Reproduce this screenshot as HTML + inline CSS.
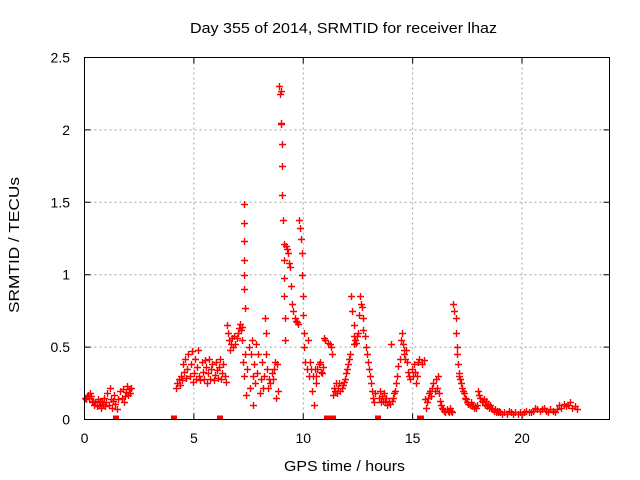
<!DOCTYPE html>
<html><head><meta charset="utf-8"><style>
html,body{margin:0;padding:0;background:#fff;}
svg{display:block;font-family:"Liberation Sans",sans-serif;}
</style></head><body>
<svg id="chart" width="640" height="480">
<text x="343.5" y="33" font-size="15" text-anchor="middle" textLength="307" lengthAdjust="spacingAndGlyphs">Day 355 of 2014, SRMTID for receiver lhaz</text>
<text x="344.5" y="471" font-size="15" text-anchor="middle" textLength="121" lengthAdjust="spacingAndGlyphs">GPS time / hours</text>
<text transform="translate(19,245) rotate(-90)" font-size="15" text-anchor="middle" textLength="136" lengthAdjust="spacingAndGlyphs">SRMTID / TECUs</text>
<g id="grid"></g><g id="ticks"></g><g id="marks"></g>
<rect x="84.5" y="57.5" width="525" height="362" fill="none" stroke="#000" stroke-width="1"/>
</svg>
<script>
const xTicks = [0,5,10,15,20];
const yTicks = [0,0.5,1,1.5,2,2.5];
const yTickLabels = ["0","0.5","1","1.5","2","2.5"];
const hours = [0,0.05,0.1,0.15,0.2,0.25,0.3,0.35,0.4,0.45,0.5,0.55,0.6,0.65,0.7,0.75,0.8,0.85,0.9,0.95,1.0,1.05,1.1,1.15,1.2,1.25,1.3,1.35,1.4,1.5,1.55,1.6,1.7,1.75,1.8,1.85,1.9,1.95,2.0,2.05,2.1,2.12,
4.2,4.25,4.3,4.35,4.4,4.45,4.5,4.55,4.6,4.65,4.7,4.75,4.8,4.85,4.9,4.95,5.0,5.05,5.1,5.15,5.2,5.25,5.3,5.35,5.4,5.45,5.5,5.55,5.6,5.65,5.7,5.75,5.8,5.85,5.9,5.95,6.0,6.05,6.1,6.15,6.2,6.25,6.3,6.35,6.4,6.45,6.5,6.55,6.6,6.65,6.7,6.75,6.8,6.85,6.9,6.95,7.0,7.05,7.1,7.15,7.2,7.22,7.25,7.27,7.3,7.3,7.3,7.3,7.3,7.3,7.32,7.35,7.4,7.45,7.5,7.55,7.6,7.65,7.7,7.7,7.75,7.8,7.85,7.9,7.95,8.0,8.05,8.1,8.15,8.2,8.25,8.3,8.3,8.35,8.4,8.45,8.5,8.55,8.6,8.65,8.7,8.75,8.8,8.85,8.9,8.95,
9.0,9.0,9.0,9.02,9.02,9.05,9.07,9.1,9.1,9.1,9.12,9.15,9.17,9.2,9.25,9.3,9.35,9.4,9.45,9.5,9.55,9.6,9.65,9.7,9.75,9.8,9.85,9.9,9.92,9.95,9.97,10.0,10.02,10.05,10.1,10.15,10.2,10.25,10.3,10.35,10.4,10.45,10.5,10.55,10.6,10.6,10.65,10.7,10.75,10.8,10.85,10.9,10.95,11.0,
11.15,11.2,11.25,11.3,11.35,11.4,11.45,11.5,11.55,11.6,11.65,11.7,11.75,11.8,11.85,11.9,11.95,12.0,12.05,12.1,12.15,12.2,12.25,12.3,12.3,12.32,12.35,12.4,12.45,12.5,12.55,12.6,12.65,12.7,12.72,12.75,12.8,12.85,12.9,12.95,13.0,13.05,13.1,13.15,13.2,13.25,13.3,
13.45,13.5,13.55,13.6,13.65,13.7,13.75,13.8,13.85,13.9,13.95,14.0,14.05,14.1,14.15,14.2,14.25,14.3,14.35,14.4,14.45,14.5,14.55,14.6,14.62,14.65,14.7,14.75,14.8,14.85,14.9,14.95,15.0,15.05,15.1,15.15,15.2,15.25,15.3,
15.45,15.5,15.55,15.6,15.65,15.7,15.75,15.8,15.85,15.9,15.95,16.0,16.05,16.1,16.15,16.2,16.25,16.3,16.35,16.4,16.45,16.5,16.55,16.6,16.65,16.7,16.75,16.8,16.85,16.9,
17.0,17.0,17.02,17.05,17.07,17.1,17.12,17.15,17.2,17.25,17.3,17.35,17.4,17.45,17.5,17.55,17.6,17.65,17.7,17.75,17.8,17.85,17.9,17.95,18.0,18.05,18.1,18.15,18.2,18.25,18.3,18.35,18.4,18.45,18.5,18.55,18.6,18.65,18.7,18.75,18.8,18.85,18.9,18.95,19.0,19.1,19.2,19.3,19.4,19.5,19.6,19.7,19.8,19.9,20.0,20.1,20.2,20.3,20.4,20.5,20.6,20.7,20.8,20.9,21.0,21.1,21.2,21.3,21.4,21.5,21.6,21.7,21.8,21.9,22.0,22.1,22.2,22.3,22.4,22.5,22.6,22.7];
const values = [0.15,0.14,0.16,0.17,0.15,0.18,0.16,0.12,0.13,0.10,0.12,0.09,0.14,0.10,0.13,0.08,0.12,0.11,0.15,0.09,0.12,0.18,0.10,0.22,0.14,0.08,0.13,0.17,0.11,0.07,0.14,0.20,0.15,0.21,0.12,0.16,0.19,0.23,0.17,0.21,0.18,0.22,
0.22,0.25,0.28,0.24,0.30,0.27,0.38,0.33,0.42,0.29,0.35,0.45,0.30,0.38,0.47,0.26,0.32,0.42,0.28,0.36,0.48,0.30,0.27,0.40,0.33,0.28,0.41,0.36,0.25,0.32,0.42,0.28,0.35,0.38,0.27,0.31,0.40,0.34,0.29,0.36,0.42,0.28,0.32,0.38,0.30,0.26,0.65,0.60,0.55,0.48,0.52,0.56,0.50,0.58,0.52,0.56,0.60,0.63,0.66,0.62,0.64,0.55,0.40,0.30,1.49,1.36,1.23,1.10,1.00,0.90,0.77,0.45,0.17,0.35,0.50,0.22,0.45,0.55,0.10,0.30,0.38,0.25,0.52,0.32,0.45,0.18,0.28,0.40,0.22,0.30,0.70,0.60,0.45,0.35,0.22,0.28,0.25,0.32,0.28,0.35,0.40,0.15,0.38,0.20,
2.30,2.25,2.05,2.27,2.04,1.90,1.75,1.55,1.38,1.21,1.10,0.98,0.85,0.55,0.70,1.20,1.18,1.15,1.08,1.05,0.92,0.80,0.75,0.70,0.68,0.67,0.66,1.38,1.32,1.25,1.15,1.00,0.85,0.72,0.60,0.50,0.40,0.35,0.55,0.30,0.40,0.35,0.20,0.30,0.10,0.35,0.25,0.30,0.35,0.38,0.40,0.33,0.32,0.36,
0.56,0.55,0.53,0.52,0.50,0.45,0.17,0.22,0.20,0.25,0.18,0.22,0.25,0.20,0.22,0.24,0.26,0.28,0.32,0.35,0.38,0.42,0.45,0.85,0.75,0.65,0.58,0.52,0.55,0.53,0.58,0.60,0.72,0.85,0.80,0.78,0.70,0.62,0.58,0.50,0.45,0.40,0.35,0.30,0.25,0.20,0.15,
0.12,0.18,0.15,0.20,0.12,0.16,0.13,0.18,0.12,0.15,0.10,0.13,0.11,0.52,0.13,0.15,0.18,0.20,0.25,0.30,0.37,0.42,0.55,0.60,0.52,0.48,0.45,0.42,0.48,0.40,0.33,0.30,0.28,0.35,0.30,0.38,0.33,0.25,0.30,
0.40,0.42,0.38,0.41,0.14,0.08,0.12,0.15,0.18,0.20,0.16,0.22,0.25,0.20,0.28,0.22,0.30,0.18,0.13,0.10,0.08,0.07,0.06,0.05,0.07,0.06,0.05,0.08,0.06,0.05,
0.80,0.75,0.70,0.60,0.50,0.45,0.38,0.32,0.30,0.28,0.25,0.22,0.20,0.18,0.15,0.14,0.12,0.11,0.10,0.12,0.09,0.10,0.08,0.09,0.08,0.10,0.20,0.17,0.15,0.13,0.12,0.14,0.10,0.13,0.09,0.11,0.08,0.10,0.08,0.07,0.06,0.07,0.05,0.06,0.05,0.06,0.05,0.04,0.05,0.04,0.06,0.05,0.04,0.05,0.04,0.05,0.04,0.05,0.06,0.05,0.05,0.06,0.08,0.07,0.06,0.07,0.08,0.06,0.05,0.07,0.06,0.05,0.07,0.10,0.08,0.11,0.09,0.10,0.12,0.08,0.09,0.07];
const zeroHours = [1.45,4.1,6.2,11.1,11.35,13.4,15.35,15.4];
const NS='http://www.w3.org/2000/svg';
const X0=84.5,X1=609.5,Y0=419.5,Y1=57.5;
function xs(h){return X0+(h/24)*(X1-X0);}
function ys(v){return Y0-(v/2.5)*(Y0-Y1);}
const grid=document.getElementById('grid'),ticks=document.getElementById('ticks'),marks=document.getElementById('marks');
function mk(tag,attrs,parent){const e=document.createElementNS(NS,tag);for(const k in attrs)e.setAttribute(k,attrs[k]);parent.appendChild(e);return e;}
xTicks.forEach((t,i)=>{
  const x=xs(t);
  if(t>0){const g=mk('line',{x1:x,x2:x,y1:Y1,y2:Y0,stroke:'#a0a0a0','stroke-dasharray':'2,3'},grid);
  
  }
  const tk=mk('path',{d:`M${x},${Y0}v-6M${x},${Y1}v6`,stroke:'#000'},ticks);
  
  
  const l=mk('text',{x:x,y:443,'font-size':14,'text-anchor':'middle'},ticks);l.textContent=String(t);
  
  
});
yTicks.forEach((t,i)=>{
  const y=ys(t);
  if(t>0&&t<2.5){const g=mk('line',{x1:X0,x2:X1,y1:y,y2:y,stroke:'#a0a0a0','stroke-dasharray':'2,3'},grid);
  
  }
  const tk=mk('path',{d:`M${X0},${y}h6M${X1},${y}h-6`,stroke:'#000'},ticks);
  
  
  const l=mk('text',{x:70,y:y+5,'font-size':14,'text-anchor':'end'},ticks);l.textContent=yTickLabels[i];
  
  
});
let d='';
for(let i=0;i<hours.length;i++){
  const x=Math.round(xs(hours[i]))+0.5,y=Math.round(ys(values[i]))+0.5;
  d+=`M${x-3.5},${y}h7M${x},${y-3.5}v7`;
}
const p=mk('path',{d:d,stroke:'#ff0000','stroke-width':1.4,fill:'none'},marks);


zeroHours.forEach(h=>{
  const r=mk('rect',{x:Math.round(xs(h))-3,y:Y0-4,width:6,height:4,fill:'#ff0000'},marks);
  
  
});
</script>
</body></html>
